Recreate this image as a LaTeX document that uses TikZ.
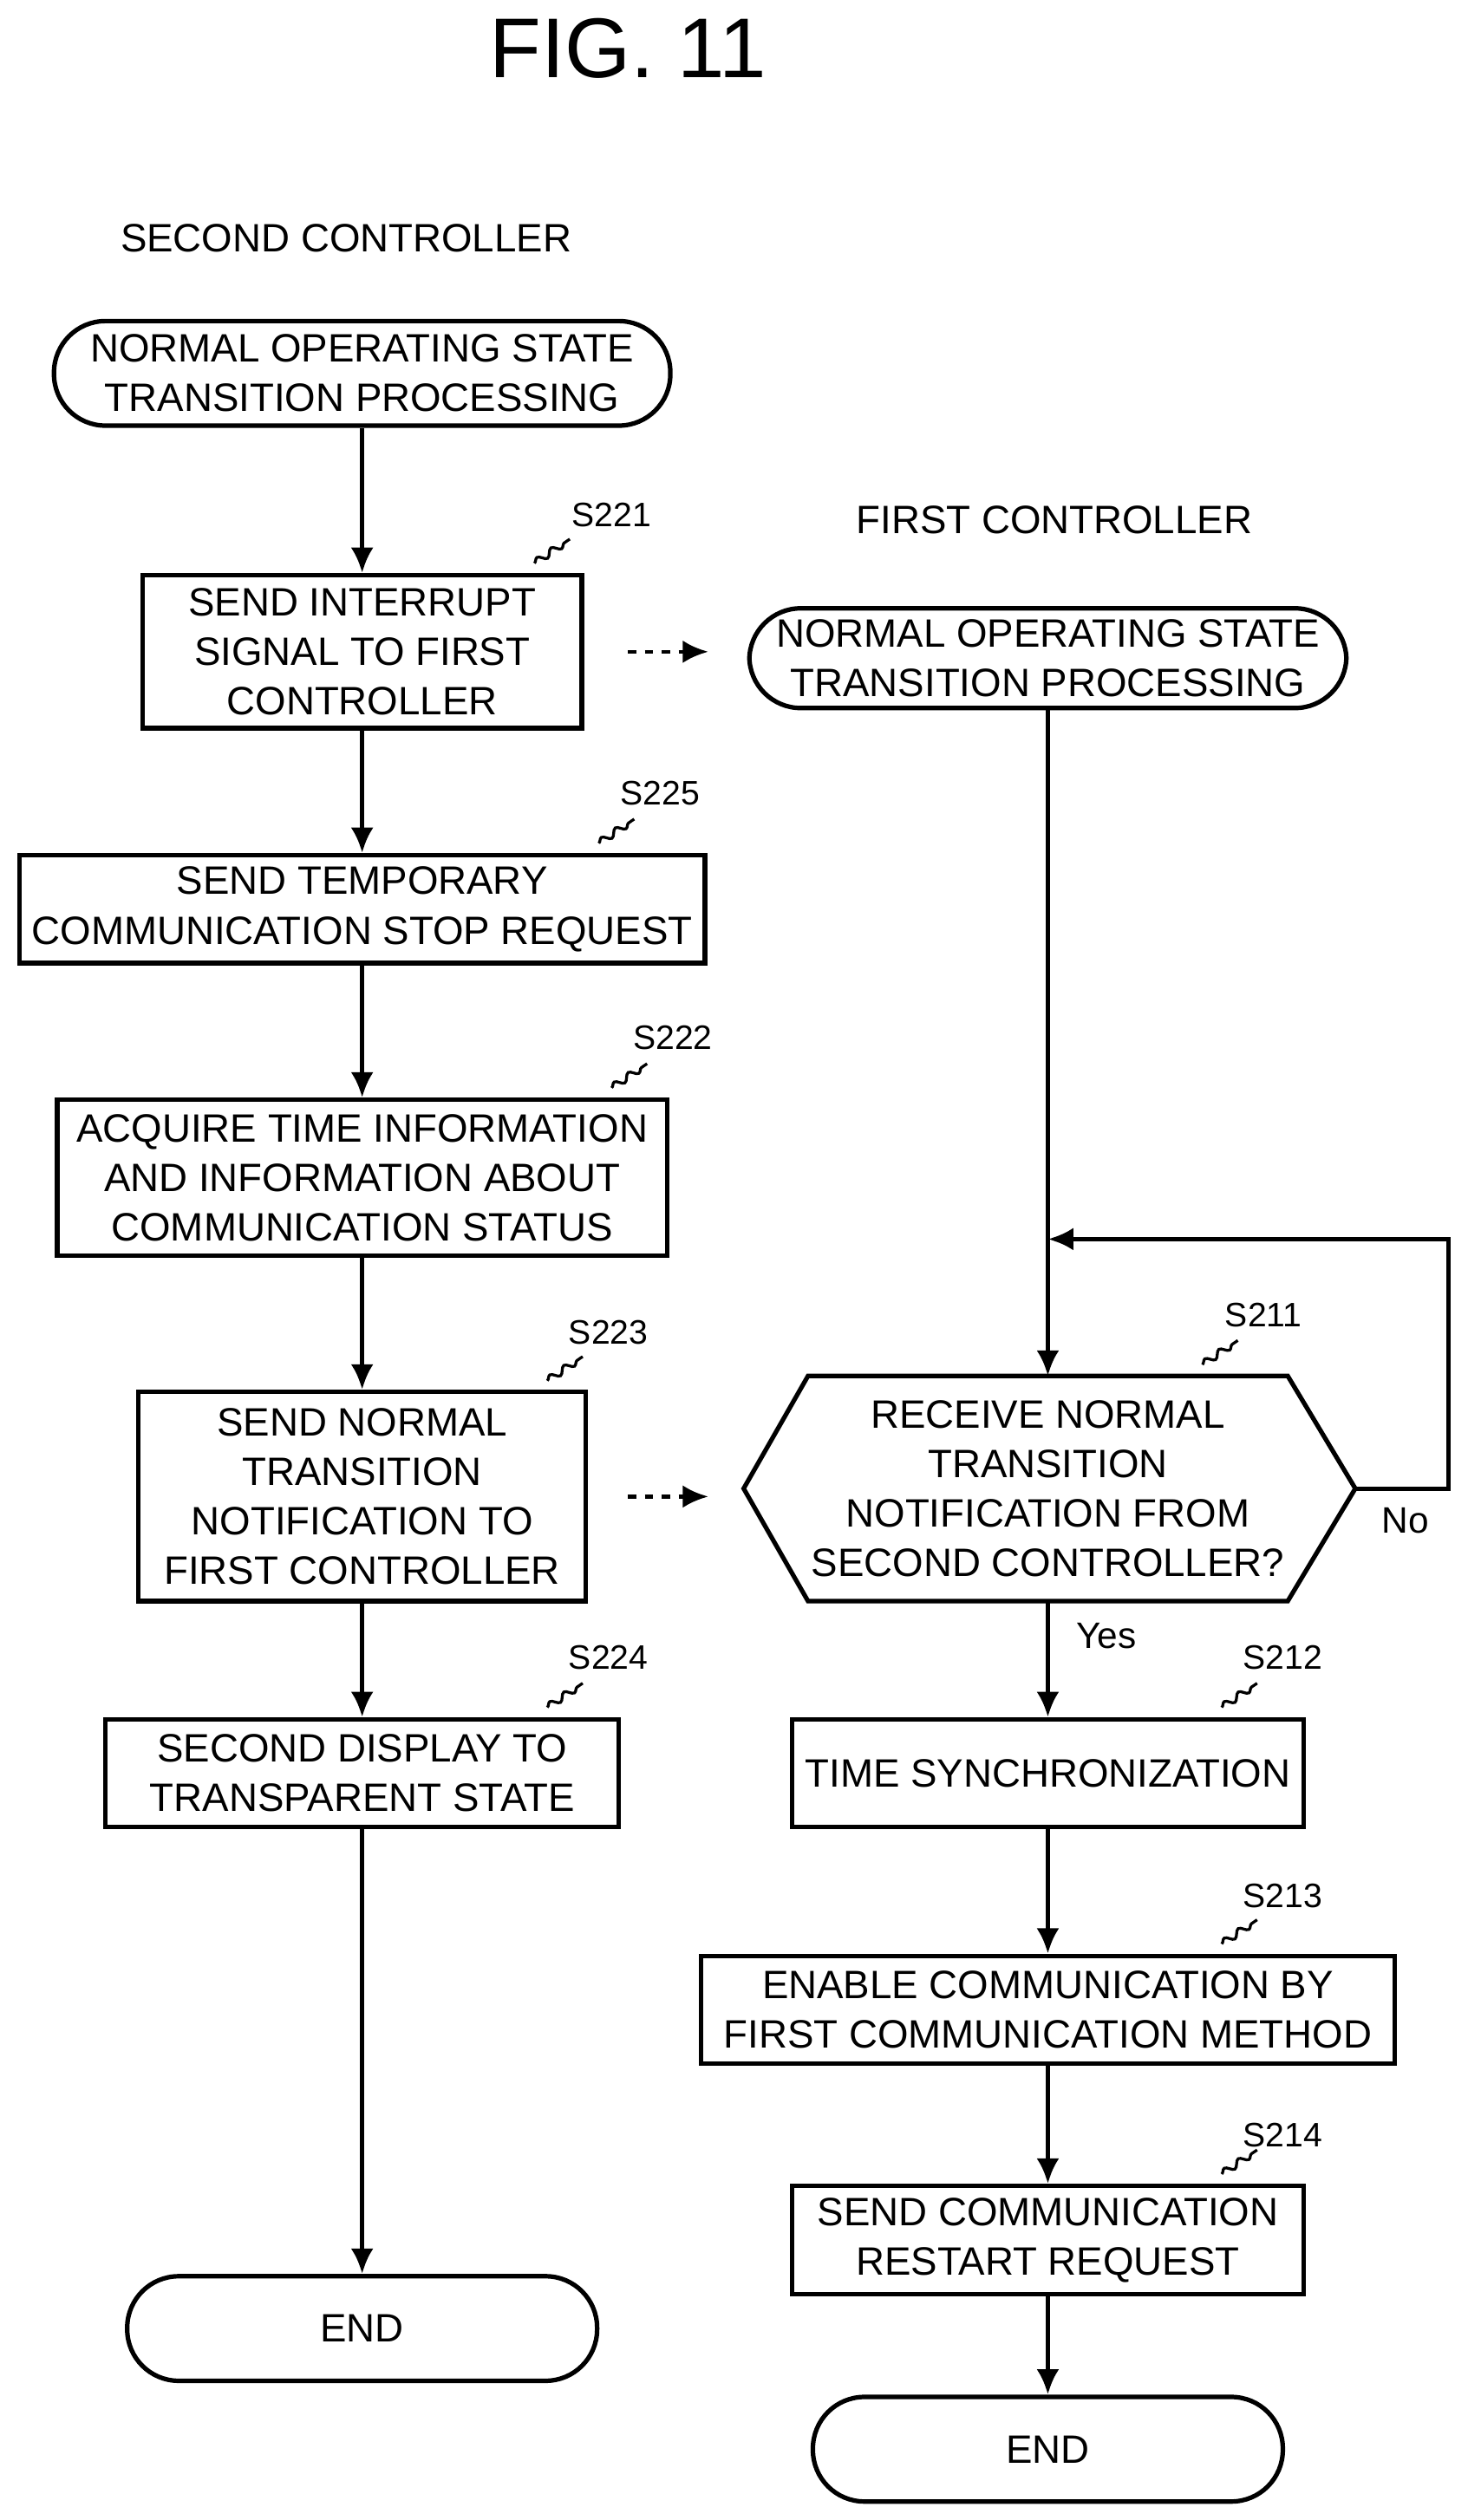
\documentclass[tikz,border=0pt]{standalone}
\usepackage{fontspec}
\setmainfont{Liberation Sans}
\usetikzlibrary{arrows.meta,decorations.pathmorphing}
\tikzset{
  box/.style={draw,line width=1.6pt,align=center,font=\fontsize{14}{17.5}\selectfont},
  term/.style={box,rounded corners=0.64cm},
  steptag/.style={font=\fontsize{12}{14}\selectfont},
  flow/.style={line width=1.6pt,-{Latex[length=9pt,width=8pt]}},
  notify/.style={line width=1.4pt,dash pattern=on 3pt off 3pt,-{Latex[length=9pt,width=8pt]}},
  wave/.style={line width=1pt,decorate,decoration={snake,amplitude=1.2pt,segment length=6pt}}
}
\newcommand{\steplbl}[3]{%
  \node[steptag] (l#1) at (#2) {#1};
  \draw[wave] (#3) -- ++(22,-15);}
\begin{document}
\begin{tikzpicture}[x=0.02cm,y=-0.02cm]
	\useasboundingbox (0,0) rectangle (912,1566);
	\node[font=\fontsize{30}{34}\selectfont] (title) at (390,30) {FIG. 11};
	\node[font=\fontsize{14}{17}\selectfont] (sc) at (215,148) {SECOND CONTROLLER};
	\node[font=\fontsize{14}{17}\selectfont] (fc) at (655,323) {FIRST CONTROLLER};
	
	% second controller
	\node[term,minimum width=7.66cm,minimum height=1.3cm] (s0) at (225,232) {NORMAL OPERATING STATE\\TRANSITION PROCESSING};
	\node[box,minimum width=5.46cm,minimum height=1.9cm] (s221) at (225,405) {SEND INTERRUPT\\SIGNAL TO FIRST\\CONTROLLER};
	\node[box,minimum width=8.52cm,minimum height=1.34cm] (s225) at (225,565) {SEND TEMPORARY\\COMMUNICATION STOP REQUEST};
	\node[box,minimum width=7.58cm,minimum height=1.94cm] (s222) at (225,732) {ACQUIRE TIME INFORMATION\\AND INFORMATION ABOUT\\COMMUNICATION STATUS};
	\node[box,minimum width=5.56cm,minimum height=2.6cm] (s223) at (225,930) {SEND NORMAL\\TRANSITION\\NOTIFICATION TO\\FIRST CONTROLLER};
	\node[box,minimum width=6.38cm,minimum height=1.34cm] (s224) at (225,1102) {SECOND DISPLAY TO\\TRANSPARENT STATE};
	\node[term,minimum width=5.84cm,minimum height=1.3cm] (e1) at (225,1447) {END};
	
	% first controller
	\node[term,minimum width=7.42cm,minimum height=1.24cm] (f0) at (651,409) {NORMAL OPERATING STATE\\TRANSITION PROCESSING};
	\node[align=center,font=\fontsize{14}{17.5}\selectfont] (s211) at (651,925) {RECEIVE NORMAL\\TRANSITION\\NOTIFICATION FROM\\SECOND CONTROLLER?};
	\draw[line width=1.6pt] (462,925) coordinate (hl) -- (502,855) coordinate (ht) -- (800,855) -- (842,925) coordinate (hr)
		-- (800,995) -- (502,995) coordinate (hb) -- cycle;
	\coordinate (htop) at (651,855);
	\coordinate (hbot) at (651,995);
	\node[box,minimum width=6.36cm,minimum height=1.34cm] (s212) at (651,1102) {TIME SYNCHRONIZATION};
	\node[box,minimum width=8.62cm,minimum height=1.34cm] (s213) at (651,1249) {ENABLE COMMUNICATION BY\\FIRST COMMUNICATION METHOD};
	\node[box,minimum width=6.36cm,minimum height=1.34cm] (s214) at (651,1392) {SEND COMMUNICATION\\RESTART REQUEST};
	\node[term,minimum width=5.84cm,minimum height=1.3cm] (e2) at (651,1522) {END};
	
	\draw[flow] (s0) -- (s221);
	\draw[flow] (s221) -- (s225);
	\draw[flow] (s225) -- (s222);
	\draw[flow] (s222) -- (s223);
	\draw[flow] (s223) -- (s224);
	\draw[flow] (s224) -- (e1);
	\draw[flow] (f0) -- (htop);
	\draw[flow] (hbot) -- node[right,font=\fontsize{13}{15}\selectfont,pos=0.3,xshift=6pt] (yes) {Yes} (s212);
	\draw[flow] (s212) -- (s213);
	\draw[flow] (s213) -- (s214);
	\draw[flow] (s214) -- (e2);
	\coordinate (lp1) at (900,925);
	\coordinate (lp2) at (900,770);
	\coordinate (lp3) at (651,770);
	\draw[flow] (hr) -- (lp1) -- (lp2) -- (lp3);
	\node[font=\fontsize{13}{15}\selectfont] (no) at (873,945) {No};
	
	\coordinate (n1a) at (390,405);
	\coordinate (n1b) at (440,405);
	\coordinate (n2a) at (390,930);
	\coordinate (n2b) at (440,930);
	\draw[notify] (n1a) -- (n1b);
	\draw[notify] (n2a) -- (n2b);
	
	% step labels
	\steplbl{S221}{380,320}{332,350}
	\steplbl{S225}{410,493}{372,524}
	\steplbl{S222}{418,645}{380,676}
	\steplbl{S223}{378,828}{340,858}
	\steplbl{S224}{378,1030}{340,1061}
	\steplbl{S211}{785,817}{747,848}
	\steplbl{S212}{797,1030}{759,1061}
	\steplbl{S213}{797,1178}{759,1208}
	\steplbl{S214}{797,1327}{759,1351}
\end{tikzpicture}
\end{document}
